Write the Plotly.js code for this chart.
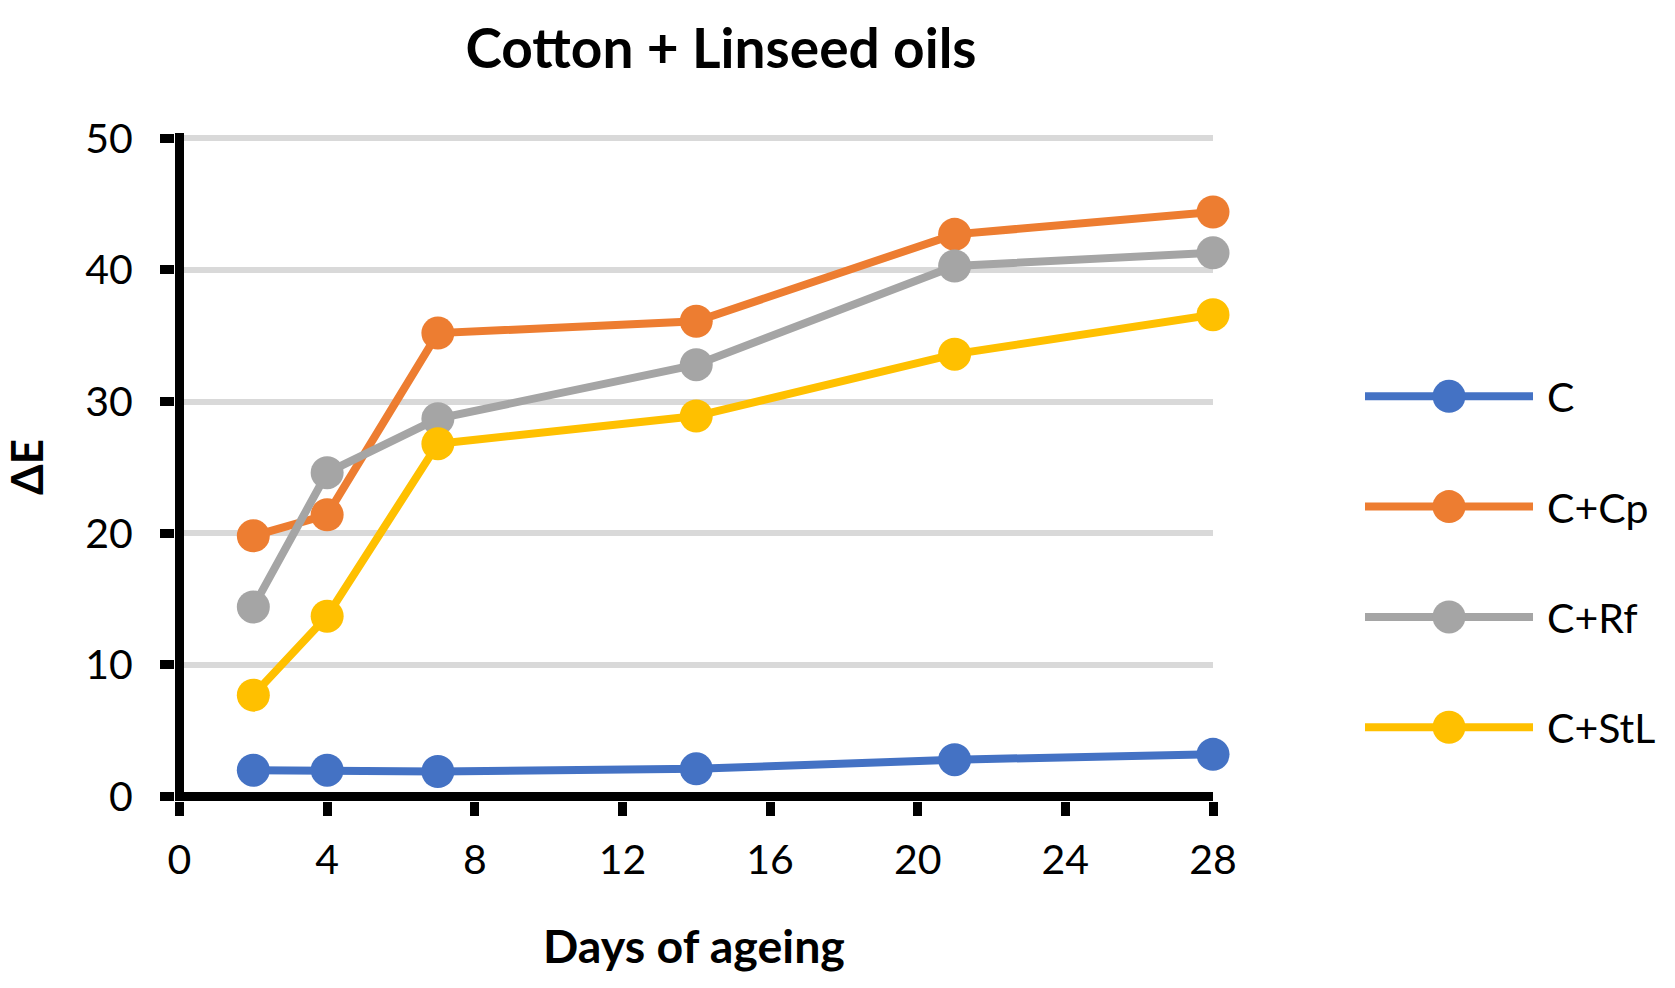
<!DOCTYPE html>
<html><head><meta charset="utf-8">
<script src="https://cdn.plot.ly/plotly-3.0.1.min.js"></script>
<style>html,body{margin:0;padding:0;background:#fff;} #chart{width:1675px;height:988px;}</style>
</head><body><div id="chart"></div>
<script>
// ---- data ----
const days = [2, 4, 7, 14, 21, 28];
const seriesNames = ['C', 'C+Cp', 'C+Rf', 'C+StL'];
const valuesC    = [2.0, 2.0, 1.9, 2.1, 2.8, 3.2];
const valuesCCp  = [19.8, 21.4, 35.2, 36.1, 42.7, 44.4];
const valuesCRf  = [14.4, 24.6, 28.7, 32.8, 40.3, 41.3];
const valuesCStL = [7.7, 13.7, 26.8, 28.9, 33.6, 36.6];
const xTickVals = [0, 4, 8, 12, 16, 20, 24, 28];
const yTickVals = [0, 10, 20, 30, 40, 50];
const chartTitle = 'Cotton + Linseed oils';
const xTitle = 'Days of ageing';
const yTitle = 'ΔE';

// ---- styles ----
const colors = ['#4472C4', '#ED7D31', '#A5A5A5', '#FFC000'];
const allValues = [valuesC, valuesCCp, valuesCRf, valuesCStL];
const FONT = 'Lato, "Open Sans", sans-serif';

const traces = allValues.map((vals, i) => ({
  type: 'scatter', mode: 'lines+markers',
  x: days, y: vals, name: seriesNames[i], legendgroup: 'g' + i,
  line: {color: colors[i], width: 8},
  marker: {color: colors[i], size: 33, line: {width: 0}},
  cliponaxis: false
}));

// axis lines are drawn as zero lines so they sit exactly on 0, like the original
const layout = {
  width: 1675, height: 988,
  margin: {l: 175, r: 462, t: 133, b: 187},
  paper_bgcolor: '#ffffff', plot_bgcolor: '#ffffff',
  font: {family: FONT, color: '#000000', size: 41},
  showlegend: true,
  title: {
    text: '<b>' + chartTitle + '</b>',
    font: {family: FONT, size: 55, color: '#000000'},
    x: 721 / 1675, xanchor: 'center', xref: 'container',
    y: 1 - 49 / 988, yanchor: 'middle', yref: 'container'
  },
  xaxis: {
    range: [-0.122, 28], tickvals: xTickVals, ticktext: xTickVals.map(String),
    showline: false,
    zeroline: true, zerolinewidth: 9, zerolinecolor: '#000000',
    ticks: 'outside', ticklen: 14, tickwidth: 9, tickcolor: '#000000',
    showgrid: false,
    tickfont: {family: FONT, size: 41, color: '#000000'},
    ticklabelstandoff: 9,
    title: {text: '<b>' + xTitle + '</b>', font: {family: FONT, size: 46.5, color: '#000000'}, standoff: 48}
  },
  yaxis: {
    range: [-0.342, 50.4], tickvals: yTickVals, ticktext: yTickVals.map(String),
    showline: false,
    zeroline: true, zerolinewidth: 9, zerolinecolor: '#000000',
    ticks: 'outside', ticklen: 14, tickwidth: 9, tickcolor: '#000000',
    showgrid: true, gridcolor: '#d9d9d9', gridwidth: 6,
    tickfont: {family: FONT, size: 41, color: '#000000'},
    ticklabelstandoff: 19,
    title: {text: '<b>' + yTitle + '</b>', font: {family: FONT, size: 44, color: '#000000'}, standoff: 48}
  },
  legend: {
    x: (1360 - 175) / 1038, xanchor: 'left', y: (800.5 - 363) / 667.5, yanchor: 'top',
    font: {family: FONT, size: 41, color: '#000000'},
    itemwidth: 177, tracegroupgap: 54, bgcolor: 'rgba(0,0,0,0)', borderwidth: 0
  }
};

Plotly.newPlot('chart', traces, layout, {displayModeBar: false, staticPlot: true}).then(gd => {
  // legend symbols: longer line and full-size markers like the chart
  const r = 16.5;
  gd.querySelectorAll('.legend .legendlines path').forEach(p => {
    p.setAttribute('d', 'M5,0h168');
  });
  gd.querySelectorAll('.legend .legendpoints path.scatterpts').forEach(p => {
    p.setAttribute('d', 'M' + r + ',0A' + r + ',' + r + ' 0 1,1 0,-' + r + 'A' + r + ',' + r + ' 0 0,1 ' + r + ',0Z');
    p.setAttribute('transform', 'translate(89,0)');
  });
});
</script>
</body></html>
